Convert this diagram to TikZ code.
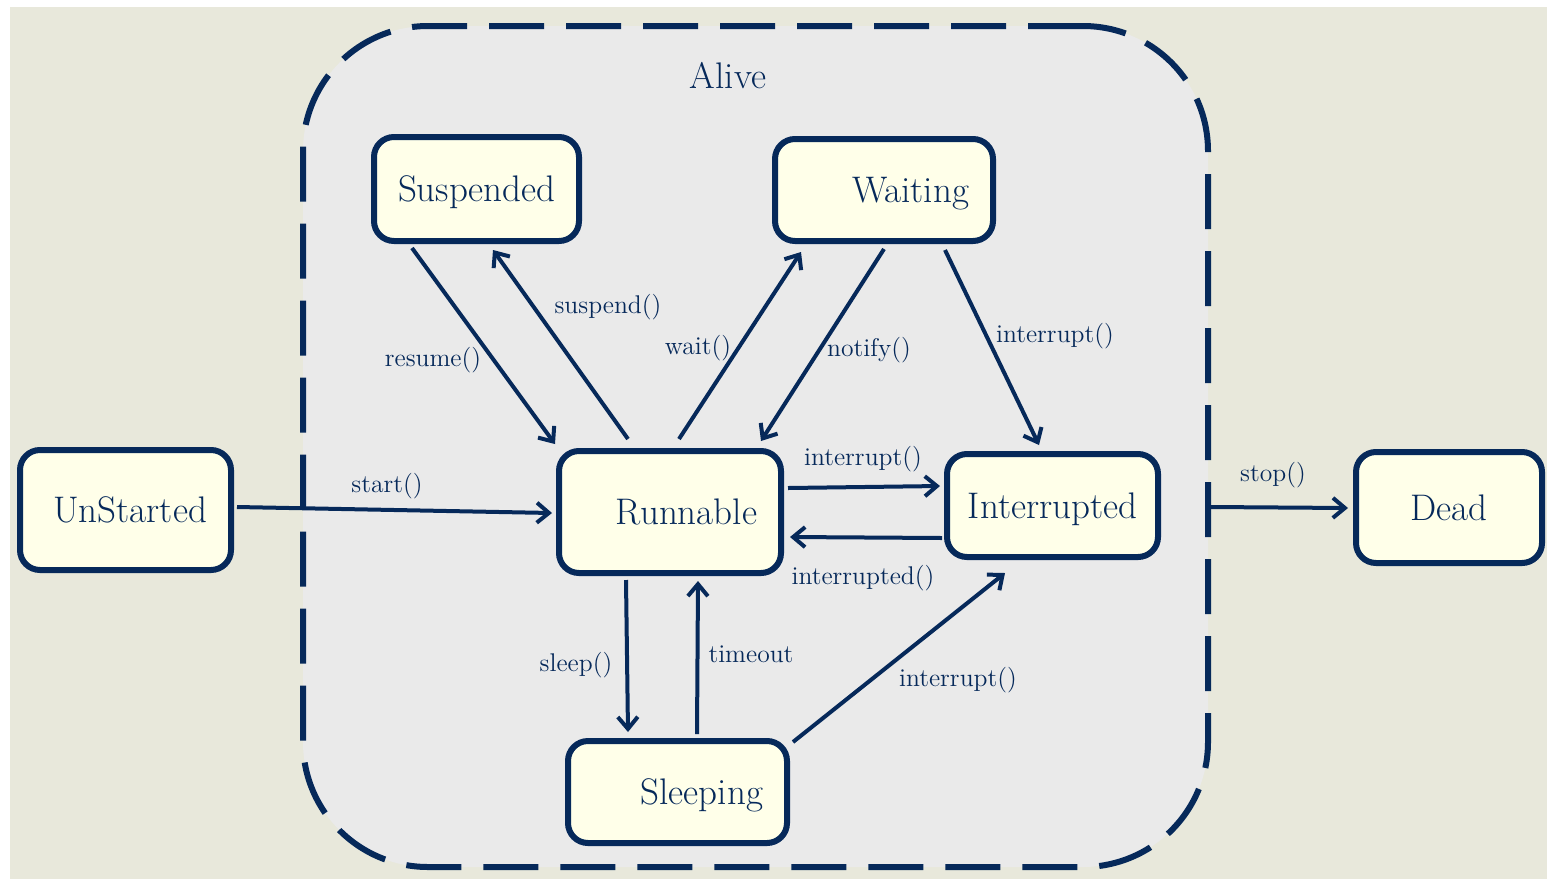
\documentclass[tikz,border=0pt]{standalone}
\usetikzlibrary{arrows.meta,calc}
\definecolor{navy}{HTML}{06295A}
\definecolor{ivory}{HTML}{FFFFE9}
\definecolor{bgbeige}{HTML}{E8E8DB}
\definecolor{alivefill}{HTML}{EAEAEA}
\begin{document}
\begin{tikzpicture}[x=0.5pt,y=-0.5pt,
 rstate/.style={draw=navy, fill=ivory, line width=3pt, rounded corners=10pt, inner xsep=12pt, inner ysep=0pt, text depth=0pt, align=right, text=navy, font=\fontsize{18.5}{22}\selectfont},
 cstate/.style={draw=navy, fill=ivory, line width=3pt, rounded corners=10pt, inner sep=0pt, text depth=0pt, align=center, text=navy, font=\fontsize{18.5}{22}\selectfont},
 lbl/.style={text=navy, font=\fontsize{12.8}{15}\selectfont, inner sep=0pt},
 arr/.style={draw=navy, line width=2pt, -{Straight Barb[length=6pt,width=10pt]}}]

\fill[white] (0,0) rectangle (1547,879);
\useasboundingbox (0,0) rectangle (1547,879);
\fill[bgbeige] (10,7) rectangle (1547,879);

\node[draw=navy, fill=alivefill, line width=3pt, dash pattern=on 27.5pt off 11pt, rounded corners=62.5pt, minimum width=452.5pt, minimum height=420.5pt, inner sep=0pt] (alive) at (755.5,446.5) {};
\node[text=navy, font=\fontsize{18.5}{22}\selectfont, inner sep=0pt] (alivelbl) at (728,76) {Alive};

\node[rstate, minimum width=105.5pt, minimum height=60pt, text width=81.5pt] (un) at (125.5,510) {UnStarted};
\node[rstate, minimum width=102.5pt, minimum height=52pt, text width=78.5pt] (susp) at (476.5,189) {Suspended};
\node[rstate, minimum width=109pt, minimum height=51pt, text width=85pt] (wait) at (884,190) {Waiting};
\node[rstate, minimum width=111pt, minimum height=61pt, text width=87pt] (run) at (670,512) {Runnable};
\node[cstate, minimum width=105.5pt, minimum height=51.5pt] (int) at (1052.5,505.5) {Interrupted};
\node[cstate, minimum width=93pt, minimum height=55.5pt] (dead) at (1449,507.5) {Dead};
\node[rstate, minimum width=109.5pt, minimum height=51pt, text width=85.5pt] (sleep) at (677.5,792) {Sleeping};

% connectors
\draw[arr] ($(un.east)+(3,-3)$) -- ($(run.west)+(-4,1)$);
\draw[arr] ($(susp.south)+(-64.5,4)$) -- ($(run.north west)+(-1,-4)$);
\draw[arr] ($(run.north)+(-42,-9)$) -- ($(susp.south)+(16.5,6)$);
\draw[arr] ($(run.north)+(9,-9)$) -- ($(wait.south)+(-83,8)$);
\draw[arr] ($(wait.south)+(0,5)$) -- ($(run.north)+(91,-7)$);
\draw[arr] ($(wait.south)+(61,6)$) -- ($(int.north)+(-13.5,-6)$);
\draw[arr] ($(run.east)+(4,-24)$) -- ($(int.west)+(-4,-19.5)$);
\draw[arr] ($(int.west)+(-2,32.5)$) -- ($(run.east)+(6,25)$);
\draw[arr] ($(run.south)+(-44,4)$) -- ($(sleep.north)+(-49.5,-6)$);
\draw[arr] ($(sleep.north)+(19.5,-4)$) -- ($(run.south)+(28,5)$);
\draw[arr] ($(sleep.north east)+(3,4)$) -- ($(int.south)+(-47.5,13)$);
\coordinate (stopstart) at ($(alive.east)+(0,60.5)$);
\draw[arr] (stopstart) -- ($(dead.west)+(-5,0.5)$);

% labels
\node[lbl] (lstart) at (387,486) {start()};
\node[lbl] (lresume) at (433,360) {resume()};
\node[lbl] (lsuspend) at (608,307) {suspend()};
\node[lbl] (lwait) at (698,348) {wait()};
\node[lbl] (lnotify) at (869,350) {notify()};
\node[lbl] (lint1) at (1055,336) {interrupt()};
\node[lbl] (lint2) at (863,459) {interrupt()};
\node[lbl] (linted) at (863,578) {interrupted()};
\node[lbl] (lsleep) at (576,665) {sleep()};
\node[lbl] (ltimeout) at (751,654) {timeout};
\node[lbl] (lint3) at (958,680) {interrupt()};
\node[lbl] (lstop) at (1273,475) {stop()};
\end{tikzpicture}
\end{document}
